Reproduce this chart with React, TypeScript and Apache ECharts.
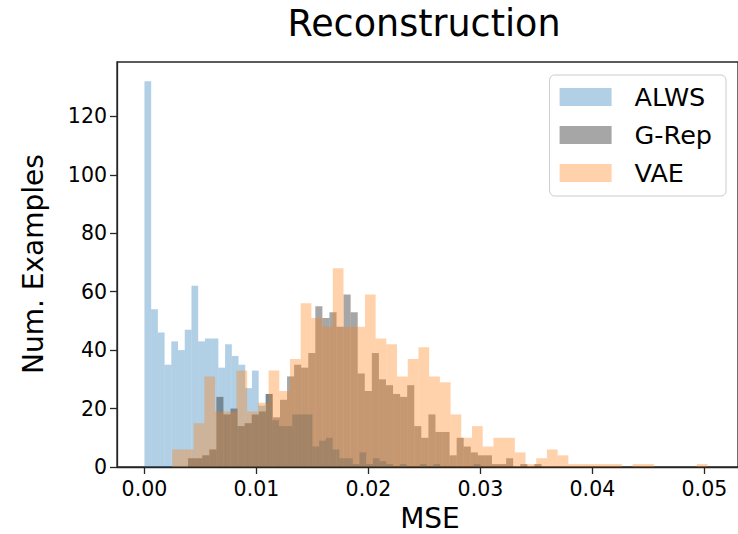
import React, { useEffect, useRef } from 'react';
import * as echarts from 'echarts';

const seriesNames = ['ALWS', 'G-Rep', 'VAE'];
const seriesColors = ['rgba(31,119,180,0.35)', 'rgba(0,0,0,0.35)', 'rgba(255,127,14,0.35)'];

const alwsBinStart = 0;
const alwsBinWidth = 0.0006;
const alwsCounts = [
  132, 54, 46, 35, 43, 40, 47, 62, 43, 44,
  44, 34, 42, 38, 35, 27, 33, 21, 25, 16,
  14, 14, 18, 18, 18, 7, 9, 10, 6, 3,
  3, 1, 5, 1, 3, 2, 1, 0, 1, 0,
  0, 1, 0, 1, 0, 0, 0, 0, 0, 1,
];

const grepBinStart = 0.0039;
const grepBinWidth = 0.000631;
const grepCounts = [
  3, 3, 4, 6, 24, 18, 20, 14, 15, 18,
  19, 25, 17, 23, 31, 35, 34, 39, 55, 51,
  53, 48, 59, 53, 32, 26, 39, 30, 28, 25,
  24, 28, 14, 10, 18, 12, 12, 4, 10, 7,
  5, 4, 4, 1, 1, 3, 0, 1, 0, 1,
];

const vaeBinStart = 0.00248;
const vaeBinWidth = 0.000956;
const vaeCounts = [
  6, 6, 15, 31, 19, 19, 33, 19, 22, 33,
  26, 37, 56, 51, 48, 68, 48, 48, 59, 44,
  42, 31, 37, 41, 31, 29, 18, 10, 14, 7,
  10, 10, 5, 1, 3, 6, 4, 1, 1, 1,
  1, 1, 0, 1, 1, 0, 0, 0, 0, 1,
];

const xTicks = [0, 0.01, 0.02, 0.03, 0.04, 0.05];
const yTicks = [0, 20, 40, 60, 80, 100, 120];

const FONT = 'DejaVu Sans';

function toBins(start: number, width: number, counts: number[]) {
  return counts.map((c, i) => [start + i * width, start + (i + 1) * width, c]);
}

const renderItem = (params: any, api: any) => {
  const p0 = api.coord([api.value(0), 0]);
  const p1 = api.coord([api.value(1), api.value(2)]);
  return {
    type: 'rect',
    shape: { x: p0[0], y: p1[1], width: p1[0] - p0[0], height: p0[1] - p1[1] },
    style: { fill: api.visual('color') },
  };
};

export default function App() {
  const ref = useRef<HTMLDivElement>(null);
  useEffect(() => {
    if (!ref.current) return;
    const chart = echarts.init(ref.current, null, { renderer: 'svg' });
    const bins = [
      toBins(alwsBinStart, alwsBinWidth, alwsCounts),
      toBins(grepBinStart, grepBinWidth, grepCounts),
      toBins(vaeBinStart, vaeBinWidth, vaeCounts),
    ];
    chart.setOption({
      animation: false,
      backgroundColor: '#ffffff',
      textStyle: { fontFamily: FONT },
      grid: {
        left: 117,
        top: 62,
        right: -4,
        bottom: 67,
        show: true,
        borderColor: '#262626',
        borderWidth: 1.3,
        containLabel: false,
      },
      xAxis: {
        type: 'value',
        min: -0.00245,
        max: 0.053,
        axisLine: { show: true, onZero: false, lineStyle: { color: '#262626', width: 1.3 } },
        axisTick: { show: true, length: 7, lineStyle: { color: '#262626', width: 1.3 }, customValues: xTicks },
        axisLabel: {
          customValues: xTicks,
          formatter: (v: number) => v.toFixed(2),
          color: '#000',
          fontSize: 20.5,
          fontFamily: FONT,
          margin: 11,
        },
        splitLine: { show: false },
      },
      yAxis: {
        type: 'value',
        min: 0,
        max: 138.6,
        axisLine: { show: true, onZero: false, lineStyle: { color: '#262626', width: 1.3 } },
        axisTick: { show: true, length: 7, lineStyle: { color: '#262626', width: 1.3 }, customValues: yTicks },
        axisLabel: {
          customValues: yTicks,
          formatter: (v: number) => String(Math.round(v)),
          color: '#000',
          fontSize: 20.5,
          fontFamily: FONT,
          margin: 10,
        },
        splitLine: { show: false },
      },
      legend: {
        orient: 'vertical',
        right: 12,
        top: 75,
        itemWidth: 52,
        itemHeight: 18,
        itemGap: 12,
        padding: [9, 14, 10, 10],
        borderColor: '#cccccc',
        borderWidth: 1,
        borderRadius: 5,
        backgroundColor: '#ffffff',
        data: seriesNames.map((n) => ({ name: n, icon: 'rect' })),
        textStyle: { fontSize: 25.5, color: '#000', fontFamily: FONT, padding: [0, 0, 0, 18] },
      },
      graphic: [
        {
          type: 'text',
          x: 424,
          y: 23,
          style: { text: 'Reconstruction', fontSize: 36.5, fontFamily: FONT, fill: '#000', textAlign: 'center', textVerticalAlign: 'middle' },
        },
        {
          type: 'text',
          x: 33,
          y: 264,
          rotation: Math.PI / 2,
          style: { text: 'Num. Examples', fontSize: 28, fontFamily: FONT, fill: '#000', textAlign: 'center', textVerticalAlign: 'middle' },
        },
        {
          type: 'text',
          x: 430,
          y: 518,
          style: { text: 'MSE', fontSize: 28, fontFamily: FONT, fill: '#000', textAlign: 'center', textVerticalAlign: 'middle' },
        },
      ],
      series: seriesNames.map((name, i) => ({
        name,
        type: 'custom',
        renderItem,
        itemStyle: { color: seriesColors[i] },
        encode: { x: [0, 1], y: 2 },
        data: bins[i],
        clip: true,
      })),
    });
    return () => chart.dispose();
  }, []);
  return <div ref={ref} style={{ position: 'fixed', left: 0, top: 0, width: 738, height: 534 }} />;
}
